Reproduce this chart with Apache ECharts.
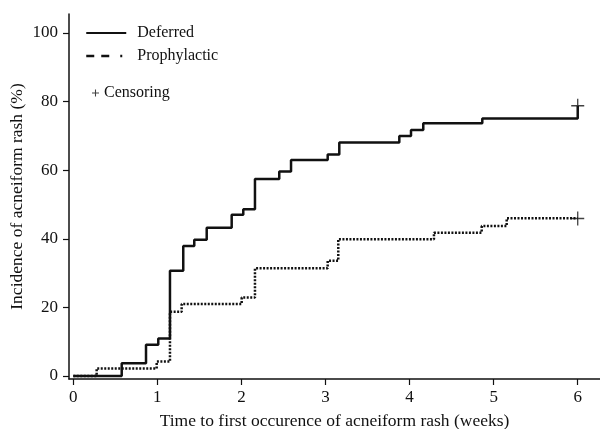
<!DOCTYPE html>
<html>
<head>
<meta charset="utf-8">
<script src="https://cdn.jsdelivr.net/npm/echarts@6/dist/echarts.min.js"></script>
<style>
  html, body { margin: 0; padding: 0; background: #fff; }
  #main { width: 600px; height: 429px; }
</style>
</head>
<body>
<div id="main"></div>
<script>
// step times (weeks) and cumulative incidence (%)
var deferredTimes = [0, 0.576, 0.865, 1.011, 1.150, 1.308, 1.439, 1.587, 1.884, 2.022, 2.161, 2.450, 2.590, 3.026, 3.164, 3.878, 4.017, 4.163, 4.865, 6.0];
var deferredValues = [0, 3.7, 9.1, 10.9, 30.7, 37.9, 39.7, 43.2, 47.0, 48.6, 57.4, 59.6, 63.0, 64.6, 68.1, 70.0, 71.7, 73.7, 75.1, 78.8];
var prophylacticTimes = [0, 0.278, 0.992, 1.150, 1.289, 2.003, 2.161, 3.026, 3.152, 4.290, 4.858, 5.155, 6.0];
var prophylacticValues = [0, 2.2, 4.2, 18.7, 21.0, 22.9, 31.4, 33.6, 39.9, 41.8, 43.7, 46.0, 45.9];
// censored observations
var censorTimes = [6.0, 6.0];
var censorValues = [78.8, 45.9];
var xTicks = [0, 1, 2, 3, 4, 5, 6];
var yTicks = [0, 20, 40, 60, 80, 100];

function pairs(xs, ys) {
  var out = [];
  for (var i = 0; i < xs.length; i++) {
    out.push([xs[i], ys[i]]);
  }
  return out;
}

var font = '"Liberation Serif", "Times New Roman", serif';
var ink = '#111';
var plus = 'path://M9,0H11V9H20V11H11V20H9V11H0V9H9Z';
var plusBold = 'path://M8.5,0H11.5V8.5H20V11.5H11.5V20H8.5V11.5H0V8.5H8.5Z';
var noSymbol = { color: 'rgba(0,0,0,0)', borderWidth: 0 };

var chart = echarts.init(document.getElementById('main'));
chart.setOption({
  backgroundColor: '#fff',
  animation: false,
  grid: { left: 69, right: 0, top: 14, bottom: 50, outerBoundsMode: 'none' },
  legend: [{
    left: 80,
    top: 20,
    orient: 'vertical',
    itemWidth: 40,
    itemHeight: 14,
    itemGap: 7,
    textStyle: { fontFamily: font, fontSize: 16, color: ink, padding: [0, 0, 0, 6] },
    data: [
      { name: 'Deferred', lineStyle: { type: 'solid', width: 2 }, itemStyle: noSymbol },
      { name: 'Prophylactic', lineStyle: { type: [8, 7, 8, 11, 2, 100], width: 2.5 }, itemStyle: noSymbol }
    ]
  }, {
    left: 87,
    top: 80,
    itemWidth: 7,
    itemHeight: 7,
    textStyle: { fontFamily: font, fontSize: 16, color: ink },
    data: [{ name: 'Censoring', icon: plusBold }]
  }],
  xAxis: {
    type: 'value',
    min: -0.051,
    max: 6.265,
    name: 'Time to first occurence of acneiform rash (weeks)',
    nameLocation: 'middle',
    nameGap: 33,
    nameMoveOverlap: false,
    nameTextStyle: { fontFamily: font, fontSize: 17.5, color: ink },
    axisLine: { onZero: false, lineStyle: { color: ink, width: 1.5 } },
    axisTick: { show: true, length: 6, customValues: xTicks, lineStyle: { color: ink, width: 1.2 } },
    axisLabel: { customValues: xTicks, margin: 10, fontFamily: font, fontSize: 17, color: ink },
    splitLine: { show: false }
  },
  yAxis: {
    type: 'value',
    min: -0.875,
    max: 105.54,
    name: 'Incidence of acneiform rash (%)',
    nameLocation: 'middle',
    nameGap: 43,
    nameMoveOverlap: false,
    nameTextStyle: { fontFamily: font, fontSize: 17.5, color: ink },
    axisLine: { show: true, onZero: false, lineStyle: { color: ink, width: 1.5 } },
    axisTick: { show: true, length: 6, customValues: yTicks, lineStyle: { color: ink, width: 1.2 } },
    axisLabel: { customValues: yTicks, margin: 11, fontFamily: font, fontSize: 17, color: ink },
    splitLine: { show: false }
  },
  series: [{
    name: 'Deferred',
    type: 'line',
    step: 'end',
    symbol: 'none',
    data: pairs(deferredTimes, deferredValues),
    lineStyle: { color: ink, width: 2.5 },
    itemStyle: { color: ink }
  }, {
    name: 'Prophylactic',
    type: 'line',
    step: 'end',
    symbol: 'none',
    data: pairs(prophylacticTimes, prophylacticValues),
    lineStyle: { color: ink, width: 2.5, type: [2, 1.5] },
    itemStyle: { color: ink }
  }, {
    name: 'Censoring',
    type: 'scatter',
    symbol: plus,
    symbolSize: [13, 14],
    clip: false,
    data: pairs(censorTimes, censorValues),
    itemStyle: { color: ink }
  }]
});
</script>
</body>
</html>
